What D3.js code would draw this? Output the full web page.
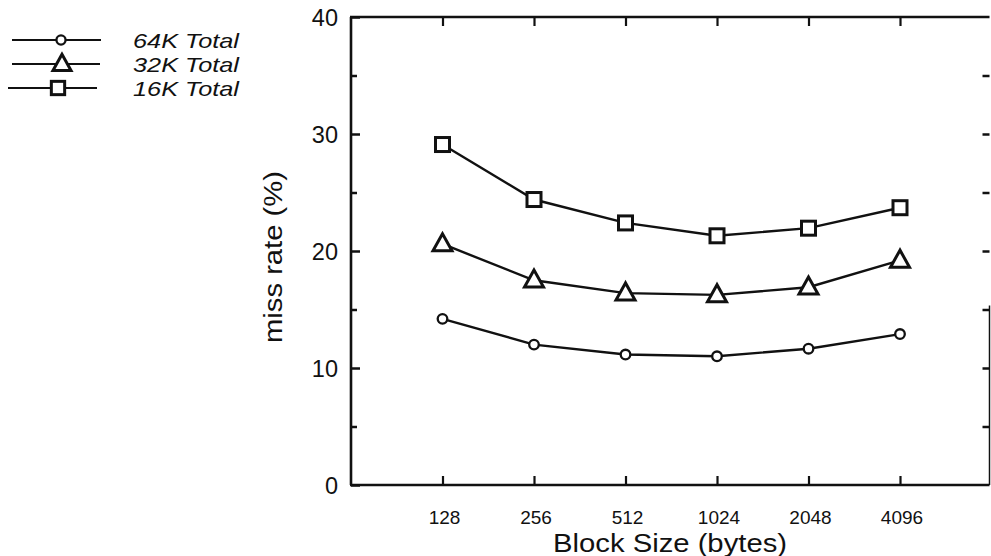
<!DOCTYPE html>
<html>
<head>
<meta charset="utf-8">
<script src="https://cdn.jsdelivr.net/npm/d3@7"></script>
<style>
  html, body { margin: 0; padding: 0; background: #fff; }
  svg { display: block; font-family: "Liberation Sans", Arial, Helvetica, sans-serif; }
</style>
</head>
<body>
<svg id="chart" width="991" height="556"></svg>
<script>
// ---- data ----
const blockSizes = [128, 256, 512, 1024, 2048, 4096];
const seriesNames = ["64K Total", "32K Total", "16K Total"];
const missRate64K = [14.2, 12.0, 11.15, 11.0, 11.65, 12.9];
const missRate32K = [20.6, 17.5, 16.4, 16.25, 16.9, 19.2];
const missRate16K = [29.1, 24.4, 22.4, 21.3, 21.95, 23.7];
const yTicks = [0, 10, 20, 30, 40];
const yMinorTicks = [5, 15, 25, 35];
const xTickLabels = ["128", "256", "512", "1024", "2048", "4096"];

const series = [
  { name: seriesNames[0], values: missRate64K, marker: "circle" },
  { name: seriesNames[1], values: missRate32K, marker: "triangle" },
  { name: seriesNames[2], values: missRate16K, marker: "square" }
];

const svg = d3.select("#chart");
const pLeft = 351, pRight = 989.5, pTop = 17, pBottom = 485;

const x = d3.scaleLog().base(2).domain([64, 8192]).range([pLeft, pLeft + 7 * 91.5]);
const y = d3.scaleLinear().domain([0, 40]).range([pBottom, pTop]);

const ink = "#111";

// frame
const g = svg.append("g");
g.append("line").attr("x1", pLeft).attr("x2", pLeft).attr("y1", pTop).attr("y2", pBottom)
  .attr("stroke", ink).attr("stroke-width", 2.6);
g.append("line").attr("x1", pLeft - 1).attr("x2", pRight).attr("y1", pBottom).attr("y2", pBottom)
  .attr("stroke", ink).attr("stroke-width", 2.6);
g.append("line").attr("x1", pLeft - 1).attr("x2", pRight).attr("y1", pTop).attr("y2", pTop)
  .attr("stroke", ink).attr("stroke-width", 2.6);
g.append("line").attr("x1", pRight).attr("x2", pRight).attr("y1", y(15) - 4).attr("y2", pBottom)
  .attr("stroke", ink).attr("stroke-width", 1.5);

// left axis via d3 axis (inward ticks)
const yAxis = d3.axisRight(y).tickValues(yTicks).tickSize(9).tickFormat("");
const ya = g.append("g").attr("transform", `translate(${pLeft},0)`).call(yAxis);
ya.select(".domain").remove();
ya.selectAll(".tick line").attr("stroke", ink).attr("stroke-width", 2.5);
const yMinor = d3.axisRight(y).tickValues(yMinorTicks).tickSize(6).tickFormat("");
const ym = g.append("g").attr("transform", `translate(${pLeft},0)`).call(yMinor);
ym.select(".domain").remove();
ym.selectAll(".tick line").attr("stroke", ink).attr("stroke-width", 2.5);

// y tick labels
g.selectAll(".ylab").data(yTicks).enter().append("text")
  .attr("x", 338).attr("y", d => y(d) + 8.5)
  .attr("text-anchor", "end").attr("font-size", 23.5).attr("fill", ink)
  .text(d => d);

// right axis ticks (inward)
const yRight = d3.axisLeft(y).tickValues(yTicks.concat(yMinorTicks).filter(d => d > 0 && d < 40)).tickSize(7).tickFormat("");
const yr = g.append("g").attr("transform", `translate(${pRight},0)`).call(yRight);
yr.select(".domain").remove();
yr.selectAll(".tick line").attr("stroke", ink).attr("stroke-width", 2.5);

// bottom axis ticks (inward)
const xAxis = d3.axisTop(x).tickValues(blockSizes).tickSize(9).tickFormat("");
const xa = g.append("g").attr("transform", `translate(0,${pBottom})`).call(xAxis);
xa.select(".domain").remove();
xa.selectAll(".tick line").attr("stroke", ink).attr("stroke-width", 2.2);

// top axis ticks (inward)
const xTop = d3.axisBottom(x).tickValues(blockSizes).tickSize(9).tickFormat("");
const xt = g.append("g").attr("transform", `translate(0,${pTop})`).call(xTop);
xt.select(".domain").remove();
xt.selectAll(".tick line").attr("stroke", ink).attr("stroke-width", 2.2);

// x tick labels
g.selectAll(".xlab").data(blockSizes).enter().append("text")
  .attr("x", d => x(d) + 2).attr("y", 524)
  .attr("text-anchor", "middle").attr("font-size", 19).attr("fill", ink)
  .text((d, i) => xTickLabels[i]);

// axis titles
g.append("text").attr("x", 670).attr("y", 552).attr("text-anchor", "middle")
  .attr("font-size", 25).attr("fill", ink)
  .attr("textLength", 234).attr("lengthAdjust", "spacingAndGlyphs")
  .text("Block Size (bytes)");
g.append("text").attr("transform", "translate(282,257) rotate(-90)").attr("text-anchor", "middle")
  .attr("font-size", 25).attr("fill", ink)
  .attr("textLength", 172).attr("lengthAdjust", "spacingAndGlyphs")
  .text("miss rate (%)");

// markers
function drawMarker(sel, type, cx, cy, scale) {
  const s = scale || 1;
  if (type === "circle") {
    sel.append("circle").attr("cx", cx).attr("cy", cy).attr("r", 4.8 * s)
      .attr("fill", "#fff").attr("stroke", ink).attr("stroke-width", 2.3);
  } else if (type === "triangle") {
    const h = 17 * s, w = 19 * s;
    const pts = [[cx, cy - h * 0.6], [cx - w / 2, cy + h * 0.4], [cx + w / 2, cy + h * 0.4]];
    sel.append("polygon").attr("points", pts.map(p => p.join(",")).join(" "))
      .attr("fill", "#fff").attr("stroke", ink).attr("stroke-width", 3).attr("stroke-linejoin", "miter");
  } else {
    const a = 14 * s;
    sel.append("rect").attr("x", cx - a / 2).attr("y", cy - a / 2).attr("width", a).attr("height", a)
      .attr("fill", "#fff").attr("stroke", ink).attr("stroke-width", 3);
  }
}

const line = d3.line().x((d, i) => x(blockSizes[i])).y(d => y(d));
series.forEach(s => {
  g.append("path").attr("d", line(s.values)).attr("fill", "none")
    .attr("stroke", ink).attr("stroke-width", 2.4);
  const mg = g.append("g");
  s.values.forEach((v, i) => drawMarker(mg, s.marker, x(blockSizes[i]), y(v)));
});

// legend
const legendRows = [
  { y: 40, x1: 12, x2: 101, mx: 61 },
  { y: 64, x1: 12, x2: 100, mx: 62 },
  { y: 88, x1: 8, x2: 97, mx: 58 }
];
series.forEach((s, i) => {
  const r = legendRows[i];
  const lg = svg.append("g");
  lg.append("line").attr("x1", r.x1).attr("x2", r.x2).attr("y1", r.y).attr("y2", r.y)
    .attr("stroke", ink).attr("stroke-width", 2.2);
  drawMarker(lg, s.marker, r.mx, r.y, 0.95);
  lg.append("text").attr("x", 133).attr("y", r.y + 8).attr("font-size", 21)
    .attr("font-style", "italic").attr("fill", ink)
    .attr("textLength", 106).attr("lengthAdjust", "spacingAndGlyphs")
    .text(s.name);
});
</script>
</body>
</html>
